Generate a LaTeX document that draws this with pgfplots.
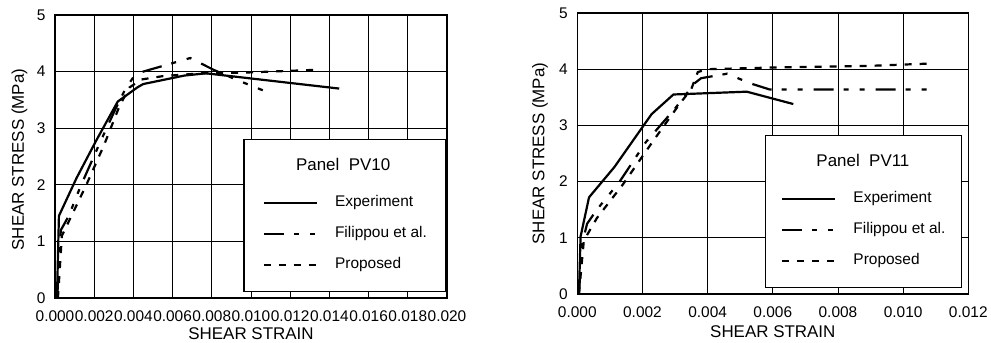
\documentclass[border=0pt]{standalone}
\usepackage{fontspec}
\setmainfont{Liberation Sans}
\usepackage{pgfplots}
\pgfplotsset{compat=1.18}

\tikzset{title entry/.style={text depth=8bp, font=\fontsize{17}{19}\selectfont}}

% line styles of the three curves
\pgfplotsset{
  expt/.style={black, line width=2.2bp, solid},
  fil/.style={black, line width=2.2bp, dash pattern=on 20bp off 10bp on 5bp off 11bp on 5bp off 11bp},
  prop/.style={black, line width=2.2bp, dash pattern=on 7bp off 8bp},
  legend image code/.code={\draw[#1] (0bp,0bp) -- (53bp,0bp);},
  panel/.style={
    scale only axis,
    xmin=0, ymin=0, ymax=5,
    ytick={0,1,2,3,4,5},
    scaled x ticks=false,
    grid=major,
    major grid style={black, line width=0.8bp},
    axis line style={black, line width=1.4bp},
    tick style={draw=none},
    /pgf/number format/assume math mode=true,
    ticklabel style={font=\fontsize{15.5}{17}\selectfont},
    xticklabel style={yshift=-9bp},
    yticklabel style={xshift=-6bp},
    label style={font=\fontsize{17}{19}\selectfont},
    xlabel={SHEAR STRAIN},
    ylabel={SHEAR STRESS (MPa)},
    legend cell align=left,
    legend style={draw=black, line width=1.4bp, fill=white,
      inner ysep=20bp, row sep=17bp, column sep=17bp,
      font=\fontsize{15.5}{17}\selectfont,
      nodes={inner sep=0pt, text height=11bp, text depth=3bp}},
  },
}

\begin{document}
\begin{tikzpicture}
% ---------------- Panel PV10 ----------------
\begin{axis}[panel,
  width=392bp, height=283bp,
  xmax=0.020,
  xtick={0,0.002,0.004,0.006,0.008,0.010,0.012,0.014,0.016,0.018,0.020},
  xticklabels={0.000,0.002,0.004,0.006,0.008,0.010,0.012,0.014,0.016,0.018,0.020},
  xlabel style={at={(axis description cs:0.5,-0.147)}, anchor=base},
  ylabel style={at={(axis description cs:-0.0791,0.489)}, anchor=base},
  legend style={at={(0.48,0.562)}, anchor=north west, inner xsep=19bp},
]
\addlegendimage{empty legend}
\addlegendentry[title entry]{\hspace*{-39bp}Panel\ \ PV10}
\addplot[expt] coordinates {
  (0.0001,0) (0.0002,1.45) (0.0011,2.12) (0.0021,2.78) (0.0032,3.47)
  (0.0042,3.72) (0.0045,3.78) (0.0066,3.93) (0.0077,3.97) (0.0145,3.70)};
\addlegendentry{Experiment}
\addplot[fil] coordinates {
  (0.00012,0) (0.0002,0.8) (0.0003,1.2) (0.0007,1.45) (0.0013,1.97)
  (0.0023,2.75) (0.0031,3.35) (0.0036,3.7) (0.0040,3.9) (0.0045,4.0)
  (0.0052,4.07) (0.0069,4.24) (0.0081,4.03) (0.0093,3.85) (0.0106,3.67)};
\addlegendentry{Filippou et al.}
\addplot[prop] coordinates {
  (0.00015,0) (0.00035,1.1) (0.0007,1.35) (0.0016,2.0) (0.0025,2.7)
  (0.0033,3.4) (0.0038,3.72) (0.0044,3.86) (0.0055,3.92) (0.0075,3.97)
  (0.0095,3.98) (0.0132,4.03)};
\addlegendentry{Proposed}
\end{axis}

% ---------------- Panel PV11 ----------------
\begin{axis}[panel,
  at={(522.3bp,4bp)}, anchor=south west,
  width=391bp, height=281bp,
  xmax=0.012,
  xtick={0,0.002,0.004,0.006,0.008,0.010,0.012},
  xticklabels={0.000,0.002,0.004,0.006,0.008,0.010,0.012},
  xlabel style={at={(axis description cs:0.5,-0.155)}, anchor=base},
  ylabel style={at={(axis description cs:-0.0844,0.5)}, anchor=base},
  legend style={at={(0.479,0.566)}, anchor=north west, inner xsep=16bp},
]
\addlegendimage{empty legend}
\addlegendentry[title entry]{\hspace*{-37bp}Panel\ \ PV11}
\addplot[expt] coordinates {
  (0.00005,0) (0.0001,1.02) (0.00036,1.72) (0.00114,2.26) (0.0020,2.97)
  (0.00228,3.2) (0.00295,3.55) (0.0052,3.6) (0.00663,3.38)};
\addlegendentry{Experiment}
\addplot[fil] coordinates {
  (0.00005,0) (0.00015,0.9) (0.0003,1.25) (0.0006,1.5) (0.0013,2.0)
  (0.0021,2.7) (0.0030,3.3) (0.0036,3.75) (0.0038,3.84) (0.0046,3.92)
  (0.0053,3.75) (0.0059,3.64) (0.0110,3.64)};
\addlegendentry{Filippou et al.}
\addplot[prop] coordinates {
  (0.00005,0) (0.0002,0.95) (0.0006,1.35) (0.0014,1.95) (0.0023,2.7)
  (0.0031,3.35) (0.0035,3.65) (0.0037,3.95) (0.0040,4.0) (0.0060,4.03)
  (0.0090,4.06) (0.0108,4.1)};
\addlegendentry{Proposed}
\end{axis}

\pgfresetboundingbox
\useasboundingbox (-55bp,-45bp) rectangle (936bp,298bp);
\end{tikzpicture}
\end{document}
